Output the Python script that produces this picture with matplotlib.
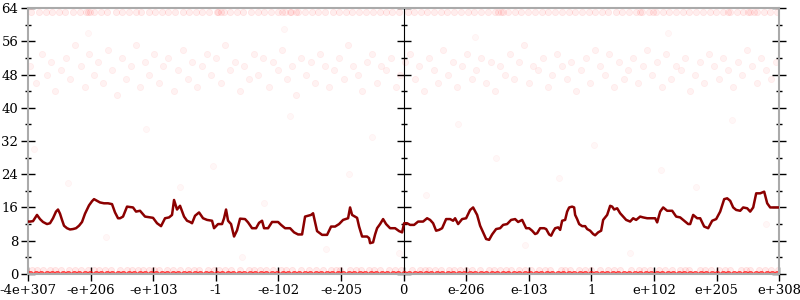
import matplotlib
matplotlib.use("Agg")
import matplotlib.pyplot as plt
from matplotlib.ticker import MultipleLocator

plt.rcParams['font.family'] = ['DejaVu Serif']

# tick labels along the (ordered) float line
tick_labels = ['-4e+307', '-e+206', '-e+103', '-1', '-e-102', '-e-205', '0',
               'e-206', 'e-103', '1', 'e+102', 'e+205', 'e+308']

# moving average (dark red line)
avg_x = [0, 2, 5, 9, 12, 15, 19, 22, 25, 28, 30, 32, 34, 36, 39, 42, 45, 48, 51, 54,
         57, 61, 64, 66, 69, 72, 76, 80, 84, 87, 90, 92, 95, 99, 105, 108, 112, 117, 122, 125,
         129, 133, 137, 141, 144, 146, 149, 152, 156, 159, 162, 164, 167, 171, 175, 179, 184, 186, 190, 194,
         196, 198, 200, 203, 206, 209, 212, 217, 220, 224, 228, 231, 234, 236, 240, 244, 250, 253, 257, 262,
         266, 270, 274, 277, 283, 285, 289, 294, 299, 303, 307, 311, 315, 320, 322, 324, 329, 331, 334, 339,
         341, 342, 345, 347, 349, 352, 355, 358, 362, 367, 371, 374, 376, 379, 382, 386, 390, 395, 399, 402,
         405, 408, 411, 414, 418, 422, 425, 427, 430, 434, 438, 442, 445, 449, 452, 455, 458, 461, 464, 468,
         472, 475, 479, 483, 487, 490, 494, 498, 501, 504, 507, 509, 512, 516, 518, 521, 523, 525, 527, 530,
         532, 534, 537, 539, 541, 544, 546, 547, 549, 551, 554, 557, 559, 562, 565, 567, 570, 573, 575, 579,
         582, 584, 586, 589, 592, 595, 598, 602, 605, 608, 612, 615, 619, 624, 627, 629, 632, 635, 639, 644,
         648, 652, 656, 660, 662, 665, 669, 672, 676, 680, 684, 688, 692, 696, 699, 702, 705, 708, 712, 715,
         719, 722, 725, 728, 732, 736, 739, 742, 747, 751]
avg_y = [12.6, 12.6, 12.7, 14.2, 13.2, 12.5, 12.0, 12.2, 13.4, 15.0, 15.5, 14.5, 13.0, 11.6, 11.0, 10.7, 10.8, 11.0, 11.6, 12.5,
         14.5, 16.5, 17.5, 18.0, 17.6, 17.2, 17.0, 17.0, 16.8, 14.8, 13.4, 13.4, 13.8, 16.2, 16.0, 15.0, 15.2, 13.8, 13.6, 13.5,
         12.2, 11.5, 13.4, 13.6, 14.2, 17.8, 15.5, 16.4, 13.8, 12.8, 12.5, 12.2, 14.0, 14.8, 13.4, 13.0, 12.8, 11.0, 12.0, 12.0,
         13.4, 15.5, 12.8, 12.0, 9.0, 10.5, 13.3, 13.2, 12.4, 11.0, 11.0, 12.3, 12.8, 11.0, 11.0, 12.5, 12.5, 11.8, 11.0, 11.0,
         10.0, 9.5, 9.5, 13.8, 14.2, 14.6, 10.3, 9.4, 9.4, 11.4, 11.4, 12.0, 13.0, 13.4, 16.0, 14.2, 13.5, 11.4, 9.0, 9.0,
         8.6, 7.4, 7.6, 9.5, 11.0, 12.0, 13.2, 12.0, 11.0, 11.0, 10.3, 10.0, 12.2, 12.2, 11.8, 11.8, 12.6, 12.6, 13.4, 13.0,
         12.2, 10.4, 10.6, 11.0, 13.2, 13.2, 12.8, 13.4, 12.0, 13.2, 13.4, 15.4, 16.0, 14.2, 11.6, 10.0, 8.4, 8.2, 9.5, 10.8,
         11.0, 11.8, 12.0, 13.0, 13.2, 12.5, 13.0, 11.0, 11.0, 10.4, 9.6, 9.8, 11.0, 11.0, 10.8, 9.5, 9.2, 10.2, 11.0, 11.2,
         10.6, 12.8, 13.0, 15.0, 16.0, 16.2, 16.0, 14.2, 13.2, 12.0, 11.5, 11.5, 10.8, 10.4, 9.6, 9.3, 10.0, 10.4, 13.0, 14.2,
         16.4, 16.2, 15.5, 15.8, 14.6, 13.8, 13.0, 12.6, 13.4, 13.0, 13.8, 13.6, 13.4, 13.4, 13.4, 12.4, 15.0, 16.0, 15.2, 15.2,
         13.8, 13.6, 12.8, 12.0, 12.0, 14.2, 13.4, 13.4, 11.4, 11.0, 12.8, 13.2, 15.0, 18.0, 18.2, 17.6, 16.0, 15.4, 15.2, 16.0,
         15.8, 15.0, 16.0, 19.4, 19.4, 19.8, 17.0, 16.0, 16.0, 16.0]

# samples: rows at 0, 1 and 63
zero_x = [2, 8, 13, 19, 24, 29, 35, 40, 46, 51, 57, 62, 68, 73, 79, 84, 90, 95, 101, 106,
          112, 117, 123, 128, 134, 139, 145, 150, 156, 161, 167, 172, 178, 183, 189, 194, 200, 205, 211, 216,
          222, 227, 233, 238, 244, 249, 255, 260, 266, 271, 277, 282, 288, 293, 299, 304, 310, 315, 321, 326,
          332, 337, 343, 348, 354, 359, 365, 370, 376, 381, 387, 392, 398, 403, 409, 414, 420, 425, 431, 436,
          442, 447, 453, 458, 464, 469, 475, 480, 486, 491, 497, 502, 508, 513, 519, 524, 530, 535, 541, 546,
          552, 557, 563, 568, 574, 579, 585, 590, 596, 601, 607, 612, 618, 623, 629, 634, 640, 645, 651, 656,
          662, 667, 673, 678, 684, 689, 695, 700, 706, 711, 717, 722, 728, 733, 739, 744, 749]
one_x = [4, 9, 15, 22, 27, 33, 41, 47, 53, 60, 66, 71, 77, 83, 92, 99, 104, 110, 115, 121,
         126, 131, 139, 145, 152, 160, 166, 171, 180, 186, 191, 197, 203, 212, 221, 226, 232, 238, 245, 253,
         258, 264, 273, 281, 288, 295, 303, 308, 312, 322, 328, 333, 341, 346, 352, 361, 367, 373, 384, 392,
         397, 401, 407, 413, 421, 426, 432, 438, 444, 452, 461, 466, 472, 478, 483, 491, 497, 503, 511, 517,
         522, 533, 537, 542, 551, 557, 563, 572, 580, 586, 592, 603, 611, 616, 622, 631, 637, 644, 652, 657,
         661, 672, 677, 683, 691, 697, 702, 713, 718, 722, 731, 737, 743, 750]
top_x = [3, 11, 18, 24, 31, 37, 45, 52, 58, 60, 62, 66, 73, 79, 88, 94, 101, 108, 113, 121,
         127, 134, 140, 147, 155, 161, 168, 174, 181, 189, 190, 193, 196, 202, 209, 215, 223, 230, 236, 243,
         250, 254, 257, 262, 263, 268, 270, 277, 284, 290, 297, 305, 311, 318, 324, 331, 338, 345, 352, 358,
         364, 371, 380, 386, 393, 399, 406, 413, 419, 426, 433, 440, 446, 453, 460, 467, 470, 473, 475, 480,
         487, 493, 500, 507, 514, 520, 527, 534, 541, 547, 554, 561, 567, 574, 580, 588, 594, 601, 608, 612,
         614, 621, 625, 628, 635, 641, 648, 655, 661, 668, 675, 682, 688, 695, 700, 702, 709, 715, 720, 722,
         726, 729, 736, 742, 749]

# samples: loose cloud around 40-56 and a few strays
cloud_x = [2, 8, 14, 19, 23, 27, 33, 38, 42, 47, 53, 57, 61, 66, 70, 75, 80, 84, 89, 94,
           98, 103, 108, 112, 117, 121, 126, 131, 135, 140, 146, 150, 155, 160, 164, 169, 174, 179, 183, 188,
           193, 197, 202, 207, 212, 216, 221, 226, 230, 235, 241, 245, 250, 254, 259, 264, 268, 273, 278, 283,
           287, 292, 297, 301, 306, 311, 316, 320, 325, 330, 334, 339, 344, 349, 353, 358, 363, 368, 372, 377,
           382, 387, 391, 396, 401, 406, 410, 415, 420, 425, 429, 434, 439, 444, 448, 453, 458, 463, 467, 472,
           477, 482, 486, 491, 496, 501, 505, 510, 515, 520, 524, 529, 534, 539, 543, 548, 553, 558, 562, 567,
           572, 577, 581, 586, 591, 596, 600, 605, 610, 615, 619, 624, 629, 634, 638, 643, 648, 653, 657, 662,
           667, 672, 676, 681, 686, 691, 695, 700, 705, 710, 714, 719, 724, 729, 733, 738, 743, 748]
cloud_y = [50, 46, 53, 48, 51, 44, 49, 52, 47, 55, 50, 45, 53, 48, 51, 46, 54, 49, 43, 52,
           47, 50, 55, 45, 51, 48, 53, 46, 50, 52, 44, 49, 54, 47, 51, 45, 50, 53, 48, 52,
           46, 55, 49, 51, 44, 50, 47, 53, 48, 52, 45, 51, 49, 54, 47, 50, 43, 52, 48, 51,
           46, 53, 50, 45, 49, 52, 47, 55, 50, 48, 44, 51, 53, 46, 50, 49, 52, 45, 48, 51,
           53, 47, 50, 44, 52, 49, 46, 54, 48, 51, 45, 50, 53, 47, 49, 52, 46, 51, 44, 50,
           48, 53, 47, 51, 55, 46, 50, 49, 52, 45, 48, 53, 50, 47, 51, 44, 49, 52, 46, 54,
           50, 48, 53, 45, 51, 47, 49, 52, 46, 50, 54, 48, 51, 45, 53, 47, 50, 49, 52, 44,
           48, 51, 46, 53, 50, 47, 52, 49, 45, 51, 48, 54, 50, 46, 52, 49, 47, 51]
stray_x = [6, 40, 78, 118, 152, 185, 214, 236, 262, 298, 321, 344, 371, 398, 430, 468, 497, 531, 566, 602,
           633, 668, 704, 738, 60, 256, 447, 640]
stray_y = [30, 22, 9, 35, 21, 26, 4, 17, 38, 6, 24, 33, 5, 19, 36, 28, 7, 23, 31, 5,
           25, 21, 37, 12, 58, 59, 57, 58]

red = '#ff0000'
fig, ax = plt.subplots(figsize=(8, 3), dpi=100)
fig.subplots_adjust(left=0.035, right=0.974, top=0.973, bottom=0.087)

kw = dict(s=20, color=red, alpha=0.05, linewidths=0.6, zorder=2)
ax.scatter(zero_x, [0] * len(zero_x), **dict(kw, alpha=0.6))
ax.scatter(one_x, [1] * len(one_x), **dict(kw, alpha=0.08))
ax.scatter(top_x, [63] * len(top_x), **dict(kw, alpha=0.07))
ax.scatter(cloud_x, cloud_y, **kw)
ax.scatter(stray_x, stray_y, **dict(kw, alpha=0.03))
ax.plot(avg_x, avg_y, color='#8b0000', lw=1.8, zorder=3)

xmax = 751
ax.set_xlim(0, xmax)
ax.set_ylim(0, 64)
ax.set_xticks([xmax * i / 12 for i in range(13)])
ax.set_xticklabels(tick_labels)
ax.yaxis.set_major_locator(MultipleLocator(8))
ax.yaxis.set_minor_locator(MultipleLocator(4))

for sp in ax.spines.values():
    sp.set_color('#aaaaaa')
    sp.set_linewidth(1.5)
ax.tick_params(axis='both', which='major', direction='inout', length=10, width=1,
               labelsize=9.5, pad=2, left=True, right=True)
ax.tick_params(axis='y', which='minor', direction='inout', length=5, width=1,
               left=True, right=True)
ax.tick_params(axis='x', which='minor', bottom=False)

# centre axis at zero
mid = ax.secondary_yaxis(0.5)
mid.yaxis.set_major_locator(MultipleLocator(8))
mid.yaxis.set_minor_locator(MultipleLocator(4))
mid.set_yticklabels([])
mid.spines['left'].set_color('#777777')
mid.spines['left'].set_linewidth(1.2)
mid.tick_params(which='major', direction='inout', length=10, width=1,
                labelleft=False, labelright=False)
mid.tick_params(which='minor', direction='inout', length=5, width=1)

plt.savefig('out.png')
